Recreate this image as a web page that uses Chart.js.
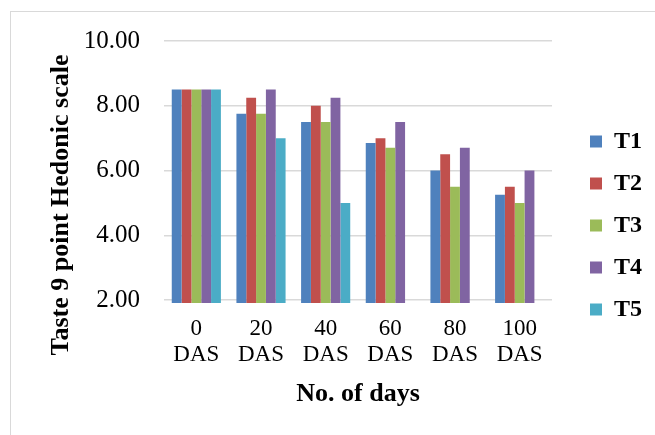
<!DOCTYPE html>
<html>
<head>
    <title>Taste 9 point Hedonic scale</title>
    <style>
        body {
            margin: 0;
            padding: 0;
            background: #ffffff;
        }
        .frame {
            position: absolute;
            left: 10px;
            top: 11px;
            width: 700px;
            height: 500px;
            border: 1px solid #d9d9d9;
        }
        #tasteChart {
            position: absolute;
            left: 0;
            top: 0;
        }
    </style>
    <script src="https://cdn.jsdelivr.net/npm/chart.js"></script>
</head>
<body>
    <div class="frame"></div>
    <canvas id="tasteChart" width="655" height="435"></canvas>

    <script>
        // categories and series
        const days = [['0', 'DAS'], ['20', 'DAS'], ['40', 'DAS'], ['60', 'DAS'], ['80', 'DAS'], ['100', 'DAS']];
        const seriesNames = ['T1', 'T2', 'T3', 'T4', 'T5'];
        const t1 = [8.5, 7.75, 7.5, 6.85, 6.0, 5.25];
        const t2 = [8.5, 8.25, 8.0, 7.0, 6.5, 5.5];
        const t3 = [8.5, 7.75, 7.5, 6.7, 5.5, 5.0];
        const t4 = [8.5, 8.5, 8.25, 7.5, 6.7, 6.0];
        const t5 = [8.5, 7.0, 5.0, 0, 0, 0];
        const yTicks = [2, 4, 6, 8, 10];
        const yTitle = 'Taste 9 point Hedonic scale';
        const xTitle = 'No. of days';
        const colors = ['#4F81BD', '#C0504D', '#9BBB59', '#8064A2', '#4BACC6'];

        const font = 'Liberation Serif';
        const allSeries = [t1, t2, t3, t4, t5];

        // y title sits lower than the plot centre in the original, so draw it here
        const yTitlePlugin = {
            id: 'yTitle',
            afterDraw(chart) {
                const c = chart.ctx;
                c.save();
                c.translate(61, 205);
                c.rotate(-Math.PI / 2);
                c.fillStyle = '#000';
                c.font = 'bold 26px "' + font + '"';
                c.textAlign = 'center';
                c.textBaseline = 'middle';
                c.fillText(yTitle, 0, 0);
                c.restore();
            }
        };

        const ctx = document.getElementById('tasteChart').getContext('2d');
        new Chart(ctx, {
            type: 'bar',
            data: {
                labels: days,
                datasets: allSeries.map((vals, i) => ({
                    label: seriesNames[i],
                    data: vals,
                    backgroundColor: colors[i],
                    borderWidth: 0,
                    categoryPercentage: 0.76,
                    barPercentage: 1.0,
                    clip: { left: 0, top: 0, right: 0, bottom: 3 }
                }))
            },
            plugins: [yTitlePlugin],
            options: {
                responsive: false,
                animation: false,
                layout: {
                    padding: { left: 10, top: 41, right: 3, bottom: 25 }
                },
                plugins: {
                    tooltip: { enabled: false },
                    legend: {
                        position: 'right',
                        labels: {
                            boxWidth: 12,
                            boxHeight: 12,
                            padding: 18,
                            color: '#000',
                            font: { family: font, size: 24, weight: 'bold' }
                        }
                    }
                },
                scales: {
                    x: {
                        grid: { display: false, drawTicks: false },
                        border: { display: false },
                        ticks: {
                            padding: 16,
                            color: '#000',
                            font: { family: font, size: 23, lineHeight: 1.13 }
                        },
                        title: {
                            display: true,
                            text: xTitle,
                            color: '#000',
                            font: { family: font, size: 26, weight: 'bold' },
                            padding: { top: 6, bottom: 0 }
                        },
                        afterFit: (scale) => { scale.height = 110; }
                    },
                    y: {
                        min: 2,
                        max: 10,
                        afterBuildTicks: (scale) => {
                            scale.ticks = yTicks.map(v => ({ value: v }));
                        },
                        grid: { color: '#d9d9d9', lineWidth: 1.5, drawTicks: false },
                        border: { display: false },
                        ticks: {
                            padding: 24,
                            color: '#000',
                            font: { family: font, size: 25 },
                            callback: (v) => Number(v).toFixed(2)
                        },
                        afterFit: (scale) => { scale.width = 154; }
                    },
                    // empty axis, only keeps the gap between plot and legend
                    gap: {
                        type: 'linear',
                        position: 'right',
                        grid: { display: false },
                        border: { display: false },
                        ticks: { display: false },
                        afterFit: (scale) => { scale.width = 20; }
                    }
                }
            }
        });
    </script>
</body>
</html>
